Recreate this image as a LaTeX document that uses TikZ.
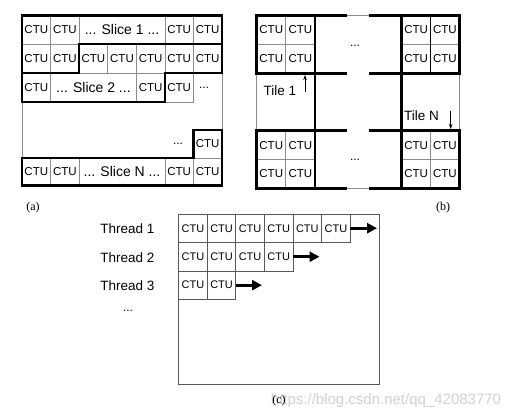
\documentclass[tikz,border=0pt]{standalone}
\usepackage{fontspec}
\setmainfont{Liberation Serif}
\setsansfont{Liberation Sans}
\usetikzlibrary{arrows.meta}
\newcommand\slf{\fontsize{14}{14}\selectfont}
\newcommand\cellbox[7]{%
  \draw[#1] (#3,#4) rectangle (#5,#6);
  \node[ctu] (#2) at ({(#3+#5)/2},{(#4+#6)/2}) {#7};}
\tikzset{
  thinln/.style={draw=black!45, line width=0.8pt},
  thinc/.style={draw=black!65, line width=0.8pt},
  thickln/.style={draw=black, line width=2.6pt},
  ctu/.style={inner sep=0pt, font=\sffamily\fontsize{11.5}{11.5}\selectfont},
  lbl/.style={inner sep=0pt, font=\sffamily\fontsize{13.5}{13.5}\selectfont},
  caplbl/.style={inner sep=0pt, font=\rmfamily\fontsize{12}{12}\selectfont},
  dots/.style={inner sep=0pt, font=\sffamily\fontsize{12}{12}\selectfont},
  smallarrow/.style={draw=black, line width=0.8pt, -{Stealth[length=5pt,width=3.5pt]}},
  bigarrow/.style={draw=black, line width=3pt, -{Triangle[length=10pt,width=10pt]}},
}
\begin{document}
\begin{tikzpicture}[x=1pt,y=-1pt]
\useasboundingbox (0,0) rectangle (516,417);
% ---------- panel (a) ----------
\draw[thinln] (22,15.3) rectangle (222,185.5);
\cellbox{thinln}{a11}{22}{15.3}{50.6}{44}{CTU}
\cellbox{thinln}{a12}{50.6}{15.3}{79.1}{44}{CTU}
\cellbox{thinln}{a1s}{79.1}{15.3}{164.9}{44}{\slf ... Slice 1 ...}
\cellbox{thinln}{a16}{164.9}{15.3}{193.4}{44}{CTU}
\cellbox{thinln}{a17}{193.4}{15.3}{222}{44}{CTU}
\cellbox{thinln}{a21}{22}{44}{50.6}{73}{CTU}
\cellbox{thinln}{a22}{50.6}{44}{79.1}{73}{CTU}
\cellbox{thinln}{a23}{79.1}{44}{107.7}{73}{CTU}
\cellbox{thinln}{a24}{107.7}{44}{136.3}{73}{CTU}
\cellbox{thinln}{a25}{136.3}{44}{164.9}{73}{CTU}
\cellbox{thinln}{a26}{164.9}{44}{193.4}{73}{CTU}
\cellbox{thinln}{a27}{193.4}{44}{222}{73}{CTU}
\cellbox{thinln}{a31}{22}{73}{50.6}{102}{CTU}
\cellbox{thinln}{a3s}{50.6}{73}{136.3}{102}{\slf ... Slice 2 ...}
\cellbox{thinln}{a35}{136.3}{73}{164.9}{102}{CTU}
\cellbox{thinln}{a36}{164.9}{73}{193.4}{102}{CTU}
\node[dots] (a37) at (204,87.5) {...};
\node[dots] (a56) at (178,144) {...};
\cellbox{thinln}{a57}{193.4}{130}{222}{158}{CTU}
\cellbox{thinln}{a61}{22}{158}{50.6}{185.5}{CTU}
\cellbox{thinln}{a62}{50.6}{158}{79.1}{185.5}{CTU}
\cellbox{thinln}{a6s}{79.1}{158}{164.9}{185.5}{\slf ... Slice N ...}
\cellbox{thinln}{a66}{164.9}{158}{193.4}{185.5}{CTU}
\cellbox{thinln}{a67}{193.4}{158}{222}{185.5}{CTU}
\draw[thickln] (22,15.3) -- (222,15.3) -- (222,44) -- (79.1,44) -- (79.1,73) -- (22,73) -- cycle;
\draw[thickln] (79.1,44) -- (222,44) -- (222,73) -- (164.9,73) -- (164.9,102) -- (22,102) -- (22,73) -- (79.1,73) -- cycle;
\draw[thickln] (193.4,130) -- (222,130) -- (222,185.5) -- (22,185.5) -- (22,158) -- (193.4,158) -- cycle;
\node[caplbl] (capa) at (33,207.5) {(a)};
% ---------- panel (b) ----------
\draw[thinln] (256.7,15.3) rectangle (459.3,188.3);
\cellbox{thinln}{b11}{256.7}{15.3}{285.8}{44.3}{CTU}
\cellbox{thinln}{b12}{285.8}{15.3}{315}{44.3}{CTU}
\cellbox{thinln}{b21}{256.7}{44.3}{285.8}{73.3}{CTU}
\cellbox{thinln}{b22}{285.8}{44.3}{315}{73.3}{CTU}
\cellbox{thinln}{b13}{401.7}{15.3}{430.5}{44.3}{CTU}
\cellbox{thinln}{b14}{430.5}{15.3}{459.3}{44.3}{CTU}
\cellbox{thinln}{b23}{401.7}{44.3}{430.5}{73.3}{CTU}
\cellbox{thinln}{b24}{430.5}{44.3}{459.3}{73.3}{CTU}
\cellbox{thinln}{b31}{256.7}{130.7}{285.8}{159.5}{CTU}
\cellbox{thinln}{b32}{285.8}{130.7}{315}{159.5}{CTU}
\cellbox{thinln}{b41}{256.7}{159.5}{285.8}{188.3}{CTU}
\cellbox{thinln}{b42}{285.8}{159.5}{315}{188.3}{CTU}
\cellbox{thinln}{b33}{401.7}{130.7}{430.5}{159.5}{CTU}
\cellbox{thinln}{b34}{430.5}{130.7}{459.3}{159.5}{CTU}
\cellbox{thinln}{b43}{401.7}{159.5}{430.5}{188.3}{CTU}
\cellbox{thinln}{b44}{430.5}{159.5}{459.3}{188.3}{CTU}
\draw[draw=black, line width=1.3pt] (430.5,15.3) -- (430.5,73.3);
\draw[thickln] (256.7,15.3) rectangle (315,73.3);
\draw[thickln] (401.7,15.3) rectangle (459.3,73.3);
\draw[thickln] (256.7,130.7) rectangle (315,188.3);
\draw[thickln] (401.7,130.7) rectangle (459.3,188.3);
\draw[thickln] (315,15.3) -- (315,188.3);
\draw[thickln] (401.7,15.3) -- (401.7,188.3);
\foreach \yy in {15.3,73.3,130.7,188.3}{
  \draw[thickln] (315,\yy) -- (347,\yy);
  \draw[thickln] (369,\yy) -- (401.7,\yy);
}
\node[dots] (bdt) at (355,46) {...};
\node[dots] (bdb) at (355,159.5) {...};
\node[lbl] (tile1) at (280,90.5) {Tile 1};
\coordinate (t1s) at (305,92);
\coordinate (t1e) at (305,75);
\draw[smallarrow] (t1s) -- (t1e);
\node[lbl] (tileN) at (421.5,115.5) {Tile N};
\coordinate (tNs) at (450.7,111);
\coordinate (tNe) at (450.7,129);
\draw[smallarrow] (tNs) -- (tNe);
\node[caplbl] (capb) at (443,207.5) {(b)};
% ---------- panel (c) ----------
\draw[thinc] (178.7,214) rectangle (379.5,384.3);
\cellbox{thinc}{c11}{178.7}{214}{207.3}{242.5}{\fontsize{11}{11}\selectfont CTU}
\cellbox{thinc}{c12}{207.3}{214}{235.8}{242.5}{\fontsize{11}{11}\selectfont CTU}
\cellbox{thinc}{c13}{235.8}{214}{264.4}{242.5}{\fontsize{11}{11}\selectfont CTU}
\cellbox{thinc}{c14}{264.4}{214}{293}{242.5}{\fontsize{11}{11}\selectfont CTU}
\cellbox{thinc}{c15}{293}{214}{321.6}{242.5}{\fontsize{11}{11}\selectfont CTU}
\cellbox{thinc}{c16}{321.6}{214}{350.2}{242.5}{\fontsize{11}{11}\selectfont CTU}
\cellbox{thinc}{c21}{178.7}{242.5}{207.3}{271}{\fontsize{11}{11}\selectfont CTU}
\cellbox{thinc}{c22}{207.3}{242.5}{235.8}{271}{\fontsize{11}{11}\selectfont CTU}
\cellbox{thinc}{c23}{235.8}{242.5}{264.4}{271}{\fontsize{11}{11}\selectfont CTU}
\cellbox{thinc}{c24}{264.4}{242.5}{293}{271}{\fontsize{11}{11}\selectfont CTU}
\cellbox{thinc}{c31}{178.7}{271}{207.3}{299.4}{\fontsize{11}{11}\selectfont CTU}
\cellbox{thinc}{c32}{207.3}{271}{235.8}{299.4}{\fontsize{11}{11}\selectfont CTU}
\coordinate (s1) at (350.2,228.2);
\coordinate (s2) at (293,256.7);
\coordinate (s3) at (235.8,285.2);
\coordinate (e1) at (377,228.2);
\coordinate (e2) at (319.5,256.7);
\coordinate (e3) at (262,285.2);
\draw[bigarrow] (s1) -- (e1);
\draw[bigarrow] (s2) -- (e2);
\draw[bigarrow] (s3) -- (e3);
\node[lbl] (th1) at (127.5,229) {Thread 1};
\node[lbl] (th2) at (127.5,257.5) {Thread 2};
\node[lbl] (th3) at (127.5,285.5) {Thread 3};
\node[dots] (thd) at (128,311) {...};
\node[inner sep=0pt, text=black!18, font=\sffamily\fontsize{15}{15}\selectfont] (wm) at (386,401) {https://blog.csdn.net/qq\_42083770};
\node[caplbl] (capc) at (279,400.5) {(c)};
\end{tikzpicture}
\end{document}
